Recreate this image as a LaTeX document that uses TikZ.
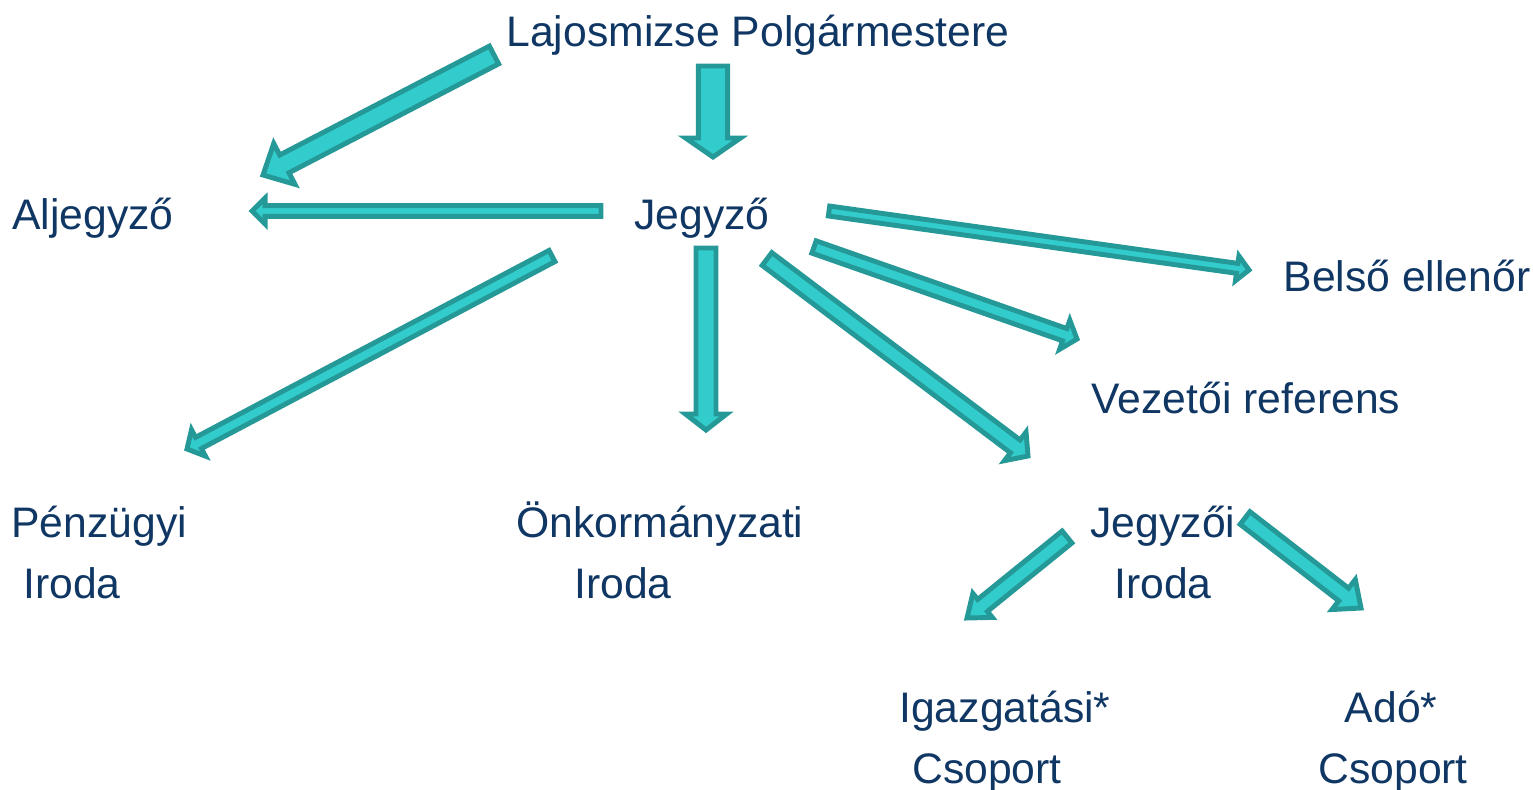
\documentclass[tikz,border=0pt]{standalone}
\usepackage{fontspec}
\setmainfont{Liberation Sans}
\usetikzlibrary{calc}
\definecolor{textblue}{RGB}{16,55,100}
\definecolor{arrfill}{RGB}{51,204,204}
\definecolor{arrline}{RGB}{37,153,151}

\begin{document}
\begin{tikzpicture}
	[x=0.02cm, y=-0.02cm,
	 lbl/.style={text=textblue, inner sep=0pt, font=\fontsize{24.3}{34.7}\selectfont},
	 arr/.style={draw=arrline, fill=arrfill, line width=2.8pt},
	 block/.style args={#1/#2/#3}{to path={
		-- ($(\tikztostart)!#1!90:(\tikztotarget)$)
		-- ($(\tikztotarget)!#3!(\tikztostart)+(\tikztostart)!#1!90:(\tikztotarget)-(\tikztostart)$)
		-- ($(\tikztotarget)!#3!(\tikztostart)+(\tikztostart)!#2!90:(\tikztotarget)-(\tikztostart)$)
		-- (\tikztotarget)
		-- ($(\tikztotarget)!#3!(\tikztostart)+(\tikztostart)!#2!-90:(\tikztotarget)-(\tikztostart)$)
		-- ($(\tikztotarget)!#3!(\tikztostart)+(\tikztostart)!#1!-90:(\tikztotarget)-(\tikztostart)$)
		-- ($(\tikztostart)!#1!-90:(\tikztotarget)$)
		-- cycle}}]
	\useasboundingbox (0,0) rectangle (1533,789);
	\node[lbl, anchor=base]      (polg)  at (758,46)  {Lajosmizse Polgármestere};
	\node[lbl, anchor=base west] (alj)   at (12,229)  {Aljegyző};
	\node[lbl, anchor=base]      (jegy)  at (702,229) {Jegyző};
	\node[lbl, anchor=base]      (belso) at (1407,291) {Belső ellenőr};
	\node[lbl, anchor=base]      (vez)   at (1246,413) {Vezetői referens};
	% two-line labels: base is the last line
	\node[lbl, anchor=base west, align=left]   (penz) at (11,598)   {Pénzügyi\\\hspace*{.28em}Iroda};
	\node[lbl, anchor=base west, align=left]   (onk)  at (516,598)  {Önkormányzati\\\hspace*{1.36em}Iroda};
	\node[lbl, anchor=base, align=center]      (jir)  at (1163,598) {Jegyzői\\Iroda};
	\node[lbl, anchor=base west, align=left]   (igaz) at (899,783)  {Igazgatási*\\\hspace*{.3em}Csoport};
	\node[lbl, anchor=base west, align=left]   (ado)  at (1318,783) {\hspace*{.62em}Adó*\\Csoport};
	% arrow ends
	\coordinate (polg-sw)  at (494,55);   \coordinate (alj-ne)  at (263,175);
	\coordinate (polg-s)   at (713,66);   \coordinate (jegy-n)  at (713,157);
	\coordinate (jegy-w)   at (601,211);  \coordinate (alj-e)   at (252,211);
	\coordinate (jegy-e)   at (829,211);  \coordinate (belso-w) at (1249,270);
	\coordinate (jegy-se1) at (814,247);  \coordinate (vez-nw)  at (1077,339);
	\coordinate (jegy-sw)  at (552,256);  \coordinate (penz-ne) at (187,449);
	\coordinate (jegy-s)   at (706,248);  \coordinate (onk-n)   at (706,430);
	\coordinate (jegy-se2) at (767,259);  \coordinate (jir-nw)  at (1028,456);
	\coordinate (jir-sw)   at (1067,537); \coordinate (igaz-ne) at (967,618);
	\coordinate (jir-se)   at (1245,518); \coordinate (ado-nw)  at (1361,608);
	\draw[arr, block=5.7pt/13.1pt/13.7pt] (polg-sw) to (alj-ne);
	\draw[arr, block=8.3pt/15.6pt/10.8pt] (polg-s) to (jegy-n);
	\draw[arr, block=3.1pt/7.4pt/7.5pt]   (jegy-w) to (alj-e);
	\draw[arr, block=2.85pt/7.1pt/6.8pt]  (jegy-e) to (belso-w);
	\draw[arr, block=3.7pt/8.8pt/7.4pt]   (jegy-se1) to (vez-nw);
	\draw[arr, block=3.6pt/8.5pt/7.4pt]   (jegy-sw) to (penz-ne);
	\draw[arr, block=5.7pt/11.7pt/9.1pt]  (jegy-s) to (onk-n);
	\draw[arr, block=4.55pt/10.2pt/9.1pt] (jegy-se2) to (jir-nw);
	\draw[arr, block=4.4pt/8.8pt/11.4pt]  (jir-sw) to (igaz-ne);
	\draw[arr, block=4.55pt/10.8pt/12.5pt] (jir-se) to (ado-nw);
\end{tikzpicture}
\end{document}
